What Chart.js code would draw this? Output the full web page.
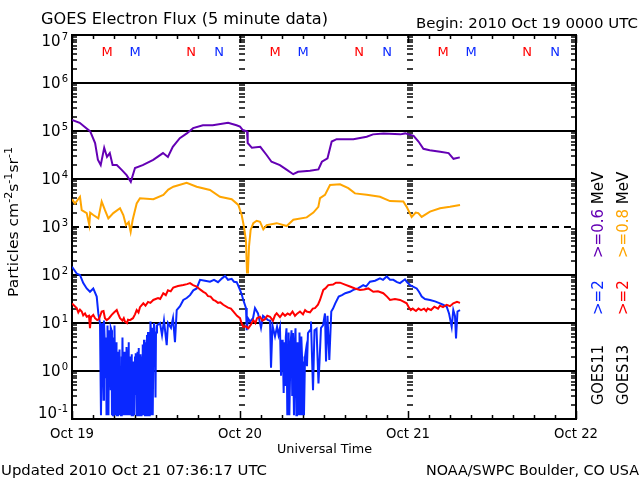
<!DOCTYPE html>
<html>
<head>
<meta charset="utf-8">
<script src="https://cdn.jsdelivr.net/npm/chart.js@4.4.0/dist/chart.umd.min.js"></script>
<style>
  html, body { margin: 0; padding: 0; background: #fff; }
</style>
</head>
<body>
<canvas id="flux" width="640" height="480"></canvas>
<script>
// hours since 2010 Oct 19 00:00 UTC
const dayLabels = ['Oct 19', 'Oct 20', 'Oct 21', 'Oct 22'];
const dayHours = [0, 24, 48, 72];
const decades = [-1, 0, 1, 2, 3, 4, 5, 6, 7];

// local midnight (M) / noon (N) of each satellite
const markerHours = [5, 9, 17, 21, 29, 33, 41, 45, 53, 57, 65, 69];
const markerText = ['M', 'M', 'N', 'N', 'M', 'M', 'N', 'N', 'M', 'M', 'N', 'N'];
const markerSat = ['G13', 'G11', 'G13', 'G11', 'G13', 'G11', 'G13', 'G11', 'G13', 'G11', 'G13', 'G11'];

// [hour, log10 flux]
const g11e06 = [[0,5.23],[1.1,5.17],[2.6,4.99],[3.3,4.75],[3.7,4.40],[4.1,4.29],[4.6,4.65],[5.0,4.46],[5.4,4.54],[5.8,4.29],
  [6.4,4.29],[7.1,4.19],[7.8,4.08],[8.4,3.94],[9.0,4.23],[10.1,4.29],[11.6,4.40],[13.0,4.54],[13.7,4.46],[14.4,4.67],
  [15.4,4.85],[16.4,4.95],[17.3,5.06],[18.7,5.12],[20.1,5.12],[22.3,5.17],[23.5,5.12],[24.0,5.09],[24.4,5.02],[25.0,4.99],
  [25.1,4.75],[25.7,4.65],[26.9,4.67],[27.8,4.50],[28.5,4.36],[29.7,4.29],[30.7,4.19],[31.6,4.10],[32.3,4.15],[34.0,4.17],
  [35.2,4.20],[35.7,4.36],[36.5,4.43],[37.1,4.78],[37.8,4.83],[40.2,4.83],[42.1,4.88],[43.0,4.93],[44.5,4.95],[46.9,4.93],
  [47.6,4.95],[48.8,4.90],[49.5,4.78],[50.2,4.63],[51.1,4.60],[52.6,4.57],[53.8,4.54],[54.5,4.42],[55.4,4.45]];

const g13e08 = [[0,3.58],[0.43,3.49],[1.14,3.63],[1.39,3.35],[2.1,3.29],[2.47,3.04],[2.6,3.30],[3.04,3.25],[3.76,3.18],[4.24,3.53],
  [4.71,3.35],[5.19,3.18],[5.9,3.29],[6.86,3.39],[7.33,3.25],[7.71,3.04],[8.1,3.10],[8.38,2.90],[8.67,3.15],[9.24,3.49],
  [9.71,3.60],[11.62,3.58],[13.05,3.67],[13.76,3.78],[14.48,3.84],[16.38,3.92],[17.81,3.84],[19.71,3.77],[21.14,3.63],[22.81,3.58],
  [23.76,3.46],[24.24,3.25],[24.57,3.00],[24.86,2.70],[25.0,2.05],[25.14,2.10],[25.29,2.60],[25.52,2.94],[25.9,3.08],[26.38,3.13],
  [26.86,3.11],[27.33,2.95],[27.81,3.04],[29.24,3.08],[30.67,3.02],[31.62,3.15],[33.53,3.20],[34.48,3.30],[35.19,3.42],[35.43,3.60],
  [36.14,3.67],[36.86,3.875],[38.29,3.89],[39.47,3.81],[40.43,3.70],[42.1,3.67],[44.0,3.63],[45.43,3.54],[47.33,3.53],[47.81,3.42],
  [48.52,3.21],[49.1,3.30],[49.47,3.29],[49.95,3.21],[51.14,3.32],[52.57,3.39],[54.0,3.42],[55.43,3.46]];

const g11e2 = [[0,2.17],[0.67,2.03],[1.14,2.0],[1.61,1.83],[2.1,1.72],[2.57,1.65],[3.04,1.72],[3.53,1.55],[3.76,1.20],[4.0,0.99],
  [4.14,-0.92],[4.29,0.9],[4.36,1.0],[4.5,-0.6],[4.57,1.05],[4.71,0.5],[4.79,-0.15],[4.86,0.7],[4.93,-0.92],[5.0,0.6],
  [5.07,0.95],[5.21,-0.92],[5.29,0.85],[5.43,0.3],[5.5,-0.4],[5.57,0.9],[5.64,0.85],[5.71,-0.92],[5.79,0.5],[5.86,-0.92],
  [5.93,0.7],[6.0,-0.3],[6.07,0.95],[6.21,-0.92],[6.29,0.6],[6.36,0.1],[6.43,-0.92],[6.57,0.4],[6.64,0.2],[6.71,-0.92],
  [6.79,0.45],[6.86,-0.5],[6.93,0.1],[7.0,-0.92],[7.07,0.3],[7.14,-0.92],[7.21,0.7],[7.29,-0.6],[7.36,-0.92],[7.43,0.4],
  [7.5,0.25],[7.57,-0.92],[7.64,0.1],[7.71,-0.92],[7.79,0.5],[7.86,0.3],[7.93,-0.92],[8.0,0.2],[8.07,0.6],[8.14,-0.4],
  [8.21,-0.92],[8.29,0.3],[8.36,-0.92],[8.43,-0.08],[8.5,0.35],[8.57,-0.92],[8.64,-0.92],[8.71,0.2],[8.79,-0.92],[8.86,0.1],
  [8.93,-0.92],[9.0,0.3],[9.07,-0.5],[9.14,0.37],[9.21,0.2],[9.29,-0.92],[9.36,0.4],[9.43,-0.92],[9.5,0.48],[9.57,0.1],
  [9.64,-0.92],[9.71,-0.7],[9.79,0.35],[9.86,-0.92],[9.93,0.3],[10.0,-0.2],[10.07,-0.92],[10.14,0.55],[10.21,-0.92],[10.29,0.65],
  [10.36,0.2],[10.43,-0.92],[10.5,-0.5],[10.57,0.6],[10.64,-0.92],[10.71,0.75],[10.79,0.4],[10.86,0.81],[10.93,-0.92],[11.0,-0.92],
  [11.07,0.7],[11.14,-0.3],[11.21,1.03],[11.29,0.8],[11.36,-0.92],[11.43,0.9],[11.5,0.6],[11.57,-0.92],[11.64,0.85],[11.71,1.0],
  [11.79,0.9],[11.86,0.4],[11.93,-0.55],[12.0,0.8],[12.14,0.95],
  [12.57,1.0],[12.86,0.75],[13.14,1.05],[13.53,0.54],[13.71,1.0],[14.14,0.9],[14.43,1.1],[14.71,0.6],[14.96,1.27],[15.43,1.35],
  [15.9,1.48],[16.39,1.52],[16.86,1.58],[17.33,1.68],[17.81,1.72],[18.29,1.9],[19.0,1.88],[19.71,1.86],[20.29,1.9],[20.86,1.85],
  [21.43,1.93],[21.86,1.98],[22.29,1.9],[22.81,1.92],[23.14,1.86],[23.53,1.85],[24.0,1.69],[24.24,1.6],[24.47,1.48],[24.86,1.31],
  [24.96,0.85],[25.14,1.1],[25.43,1.03],[25.86,1.1],[26.14,1.31],[26.57,1.2],[27.0,0.9],[27.29,1.15],[28.0,1.06],[28.29,1.05],
  [28.43,0.07],[28.64,0.95],[29.0,0.72],[29.29,0.92],[29.5,0.75],[29.71,0.9],[29.86,-0.1],[30.0,0.65],[30.1,0.5],[30.24,-0.46],
  [30.33,0.6],[30.43,-0.29],[30.54,0.7],[30.64,0.89],[30.76,-0.92],[30.86,0.1],[30.95,0.8],[31.05,-0.92],[31.14,-0.92],[31.24,0.6],
  [31.36,0.85],[31.46,-0.5],[31.57,0.79],[31.64,-0.2],[31.71,-0.92],[31.81,0.5],[31.93,0.89],[32.05,-0.92],[32.14,0.3],[32.24,0.6],
  [32.36,-0.92],[32.43,0.1],[32.5,0.8],[32.64,-0.92],[32.76,0.72],[32.86,0.3],[32.93,-0.92],[33.05,0.2],[33.14,-0.92],[33.29,0.3],
  [33.43,0.44],[33.57,0.1],[33.71,0.79],[34.0,0.85],[34.14,1.03],[34.43,-0.4],[34.64,0.85],[34.93,0.88],[35.21,-0.26],[35.36,0.2],
  [35.57,0.9],[35.86,0.95],[36.14,1.2],[36.29,0.2],[36.5,1.15],[36.76,0.23],[37.04,1.24],[37.29,1.3],[37.61,1.41],[38.1,1.55],
  [38.57,1.58],[39.04,1.62],[39.71,1.65],[40.19,1.69],[40.86,1.72],[41.61,1.79],[42.0,1.76],[42.57,1.86],[43.29,1.88],[44.0,1.93],
  [44.43,1.9],[44.96,1.97],[45.43,1.9],[45.9,1.9],[46.43,1.85],[46.86,1.83],[47.57,1.91],[47.86,1.85],[48.29,1.79],[48.71,1.76],
  [49.24,1.72],[49.57,1.65],[49.96,1.55],[50.43,1.5],[51.14,1.48],[51.86,1.45],[52.57,1.41],[53.0,1.38],[53.53,1.34],[53.86,1.2],
  [54.24,0.92],[54.47,1.27],[54.71,1.15],[54.86,0.68],[55.07,1.24],[55.43,1.27]];

const g13e2 = [[0,1.41],[0.33,1.36],[0.67,1.31],[0.9,1.22],[1.14,1.28],[1.39,1.24],[1.6,1.16],[1.86,1.2],[2.1,1.13],[2.43,1.15],
  [2.57,0.89],[2.71,1.12],[3.04,1.17],[3.29,1.1],[3.61,1.06],[3.86,1.08],[4.24,1.24],[4.5,1.25],[4.71,1.1],[4.96,1.06],
  [5.29,1.1],[5.67,1.17],[6.0,1.22],[6.39,1.27],[6.57,1.2],[6.86,1.1],[7.21,1.05],[7.4,1.1],[7.57,1.03],[7.86,1.0],
  [8.0,1.07],[8.29,1.06],[8.71,1.1],[9.0,1.18],[9.24,1.27],[9.5,1.22],[9.71,1.33],[10.19,1.41],[10.5,1.36],[10.86,1.44],
  [11.2,1.42],[11.61,1.48],[12.29,1.52],[12.6,1.5],[13.04,1.62],[13.4,1.58],[13.71,1.68],[14.1,1.66],[14.47,1.74],[15.14,1.77],
  [15.9,1.79],[16.43,1.81],[16.86,1.83],[17.29,1.79],[17.81,1.76],[18.29,1.7],[18.76,1.65],[19.1,1.62],[19.43,1.56],[19.8,1.55],
  [20.19,1.48],[20.5,1.46],[20.86,1.42],[21.2,1.43],[21.61,1.38],[22.29,1.32],[22.7,1.3],[23.04,1.24],[23.57,1.15],[24.0,1.1],
  [24.24,0.99],[24.47,0.92],[24.86,0.93],[25.19,0.89],[25.57,0.97],[25.9,1.06],[26.2,1.0],[26.43,1.1],[26.86,1.13],[27.2,1.05],
  [27.57,1.08],[27.9,1.15],[28.29,1.13],[28.71,1.05],[29.0,1.16],[29.24,1.2],[29.71,1.12],[30.1,1.2],[30.43,1.15],[30.8,1.2],
  [31.14,1.17],[31.5,1.24],[31.86,1.15],[32.2,1.2],[32.57,1.24],[33.0,1.18],[33.3,1.27],[33.53,1.24],[34.0,1.22],[34.4,1.3],
  [34.71,1.31],[35.14,1.38],[35.43,1.48],[35.9,1.69],[36.2,1.72],[36.61,1.79],[37.29,1.8],[37.71,1.84],[38.29,1.84],[39.0,1.8],
  [39.71,1.76],[40.43,1.72],[41.14,1.69],[41.71,1.7],[42.33,1.72],[43.04,1.65],[43.71,1.66],[44.47,1.62],[45.0,1.55],[45.43,1.48],
  [46.14,1.5],[46.86,1.48],[47.29,1.45],[47.81,1.41],[48.14,1.32],[48.4,1.27],[48.67,1.3],[49.14,1.25],[49.5,1.3],[49.86,1.27],
  [50.29,1.3],[50.6,1.25],[50.81,1.3],[51.29,1.27],[51.76,1.34],[52.29,1.3],[52.57,1.36],[53.0,1.33],[53.53,1.38],[54.0,1.35],
  [54.47,1.41],[55.0,1.44],[55.43,1.42]];

const COL = { purple: '#6400b4', orange: '#ffa500', blue: '#0a28ff', red: '#ff0000' };
const FONT = '"DejaVu Sans", sans-serif';

const toXY = arr => arr.map(([h, lg]) => ({ x: h, y: Math.pow(10, lg) }));

// draw text, optionally squeezed/stretched to a given width
function txt(ctx, s, x, y, size, width, align, color, rot) {
  ctx.save();
  ctx.font = size + 'px ' + FONT;
  ctx.fillStyle = color || '#000';
  ctx.textAlign = align || 'left';
  ctx.textBaseline = 'alphabetic';
  const w = ctx.measureText(s).width;
  ctx.translate(x, y);
  if (rot) ctx.rotate(-Math.PI / 2);
  if (width) ctx.scale(width / w, 1);
  ctx.fillText(s, 0, 0);
  ctx.restore();
  return width || w;
}

const frame = {
  id: 'frame',
  beforeDatasetsDraw(chart) {
    const { ctx, chartArea: a, scales: { x, y } } = chart;
    ctx.save();
    ctx.strokeStyle = '#000';
    // decade lines, 10^3 dashed
    ctx.lineWidth = 2;
    decades.forEach(k => {
      if (k === -1 || k === 7) return;
      const py = Math.round(y.getPixelForValue(Math.pow(10, k)));
      ctx.setLineDash(k === 3 ? [7, 5] : []);
      ctx.beginPath(); ctx.moveTo(a.left, py); ctx.lineTo(a.right, py); ctx.stroke();
    });
    ctx.setLineDash([]);
    // minor log ticks: left, right and along the day lines
    ctx.lineWidth = 1.5;
    ctx.beginPath();
    for (let k = -1; k < 7; k++) {
      for (let m = 2; m <= 9; m++) {
        const py = Math.round(y.getPixelForValue(m * Math.pow(10, k)));
        ctx.moveTo(a.left, py); ctx.lineTo(a.left + 5, py);
        ctx.moveTo(a.right - 5, py); ctx.lineTo(a.right, py);
        [24, 48].forEach(h => {
          const px = Math.round(x.getPixelForValue(h));
          ctx.moveTo(px - 1, py); ctx.lineTo(px + 5, py);
        });
      }
    }
    // time ticks every 3 h, top and bottom
    for (let h = 0; h <= 72; h += 3) {
      const px = Math.round(x.getPixelForValue(h)) + 0.5;
      const len = h % 24 === 0 ? 8 : 4;
      ctx.moveTo(px, a.bottom); ctx.lineTo(px, a.bottom - len);
      ctx.moveTo(px, a.top); ctx.lineTo(px, a.top + len);
    }
    ctx.stroke();
    ctx.lineWidth = 2;
    ctx.strokeRect(a.left, a.top, a.right - a.left, a.bottom - a.top);
    ctx.restore();
  },
  afterDraw(chart) {
    const { ctx, scales: { x, y } } = chart;
    // y tick labels 10^n
    decades.forEach(k => {
      let cy = y.getPixelForValue(Math.pow(10, k));
      if (k === 7) cy += 6;
      if (k === -1) cy -= 6;
      const base = Math.round(cy + 5);
      ctx.font = '10px ' + FONT;
      const ew = ctx.measureText(String(k)).width;
      const ex = 68 - ew;
      txt(ctx, String(k), ex, base - 6, 10);
      txt(ctx, '10', ex - 1, base, 15, 0, 'right');
    });
    // day labels
    dayHours.forEach((h, i) => {
      txt(ctx, dayLabels[i], x.getPixelForValue(h), 438, 14, 44, 'center');
    });
    // M / N markers
    markerHours.forEach((h, i) => {
      txt(ctx, markerText[i], x.getPixelForValue(h), 56, 13, 0, 'center',
        markerSat[i] === 'G13' ? COL.red : COL.blue);
    });
    txt(ctx, 'GOES Electron Flux (5 minute data)', 41, 24, 15, 287);
    txt(ctx, 'Begin: 2010 Oct 19 0000 UTC', 416, 28, 14, 222);
    txt(ctx, 'Universal Time', 277, 453, 12, 95);
    txt(ctx, 'Updated 2010 Oct 21 07:36:17 UTC', 1, 475, 14, 266);
    txt(ctx, 'NOAA/SWPC Boulder, CO USA', 426, 475, 14, 213);

    // rotated y axis title with superscripts
    const parts = [['Particles cm', 0], ['-2', 1], ['s', 0], ['-1', 1], ['sr', 0], ['-1', 1]];
    ctx.save();
    let total = 0;
    parts.forEach(([s, sup]) => { ctx.font = (sup ? 10 : 14) + 'px ' + FONT; total += ctx.measureText(s).width; });
    ctx.translate(18, 222);
    ctx.rotate(-Math.PI / 2);
    ctx.scale(150 / total, 1);
    let cx = -total / 2;
    parts.forEach(([s, sup]) => {
      ctx.font = (sup ? 10 : 14) + 'px ' + FONT;
      ctx.fillStyle = '#000';
      ctx.fillText(s, cx, sup ? -6 : 0);
      cx += ctx.measureText(s).width;
    });
    ctx.restore();

    // right side legend, two rotated columns
    const w1 = txt(ctx, '>=0.6 ', 603, 258, 15, 0, 'left', COL.purple, true);
    txt(ctx, 'MeV', 603, 258 - w1, 15, 0, 'left', '#000', true);
    const w2 = txt(ctx, '>=0.8 ', 628, 258, 15, 0, 'left', COL.orange, true);
    txt(ctx, 'MeV', 628, 258 - w2, 15, 0, 'left', '#000', true);
    txt(ctx, '>=2', 603, 315, 15, 0, 'left', COL.blue, true);
    txt(ctx, '>=2', 628, 315, 15, 0, 'left', COL.red, true);
    txt(ctx, 'GOES11', 603, 405, 15, 60, 'left', '#000', true);
    txt(ctx, 'GOES13', 628, 405, 15, 60, 'left', '#000', true);
  }
};

const line = (data, color) => ({
  data: toXY(data), borderColor: color, borderWidth: 2,
  pointRadius: 0, tension: 0, fill: false
});

new Chart(document.getElementById('flux'), {
  type: 'line',
  data: {
    datasets: [
      line(g13e2, COL.red),
      line(g11e2, COL.blue),
      line(g13e08, COL.orange),
      line(g11e06, COL.purple)
    ]
  },
  options: {
    responsive: false,
    animation: false,
    events: [],
    layout: { padding: { left: 72, right: 64, top: 35, bottom: 61 } },
    plugins: { legend: { display: false }, tooltip: { enabled: false } },
    scales: {
      x: { type: 'linear', min: 0, max: 72, display: false },
      y: { type: 'logarithmic', min: 0.1, max: 1e7, display: false }
    }
  },
  plugins: [frame]
});
</script>
</body>
</html>
